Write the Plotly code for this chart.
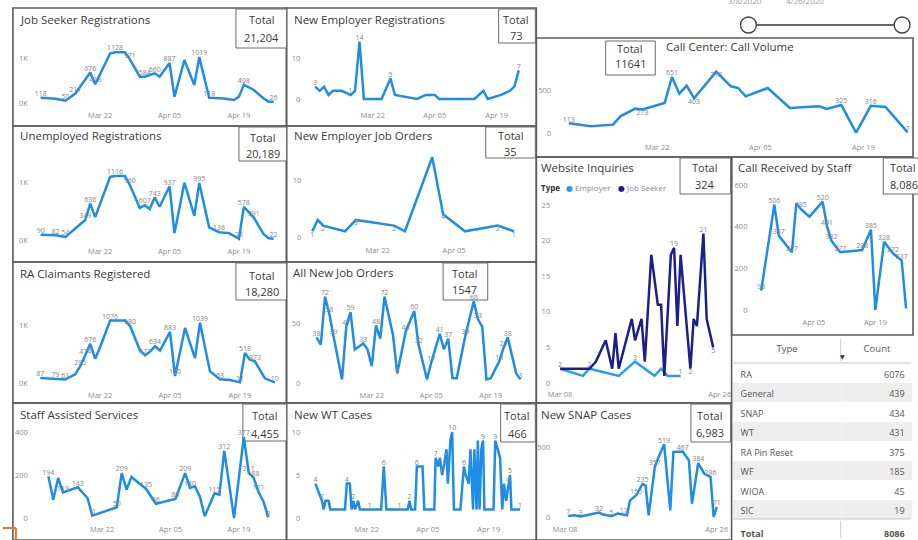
import plotly.graph_objects as go
import pandas as pd

W, H = 918, 540
FONT = "Open Sans, Noto Sans, DejaVu Sans, sans-serif"
BLUE = "#1f8ce6"
EMP_BLUE = "#2b9bf0"
NAVY = "#1b1f8a"

# ------------------------------------------------------------------ data
JS_DATES = ["2020-03-10", "2020-03-13", "2020-03-15", "2020-03-17", "2020-03-20", "2020-03-21",
            "2020-03-24", "2020-03-25", "2020-03-27", "2020-03-28", "2020-03-30", "2020-03-31",
            "2020-04-02", "2020-04-03", "2020-04-05", "2020-04-06", "2020-04-08", "2020-04-10",
            "2020-04-11", "2020-04-13", "2020-04-16", "2020-04-18", "2020-04-19", "2020-04-20",
            "2020-04-22", "2020-04-24", "2020-04-25", "2020-04-26"]
JS_VALUES = [118, 95, 50, 211, 676, 418, 1100, 1128, 1128, 971, 585, 584, 660, 585, 887, 140, 955, 400,
             1019, 118, 100, 67, 140, 408, 290, 100, 30, 26]
JS_TOP = [0, 2, 3, 4, 5, 7, 9, 11, 12, 14, 18, 19, 23, 27]

NER_DATES = ["2020-03-09", "2020-03-10", "2020-03-11", "2020-03-12", "2020-03-13", "2020-03-15",
             "2020-03-17", "2020-03-18", "2020-03-19", "2020-03-20", "2020-03-24", "2020-03-26",
             "2020-03-27", "2020-04-01", "2020-04-03", "2020-04-05", "2020-04-06", "2020-04-14",
             "2020-04-16", "2020-04-17", "2020-04-20", "2020-04-22", "2020-04-23", "2020-04-24"]
NER_VALUES = [3, 2, 3, 1, 2, 2, 1, 2, 14, 0, 0, 5, 1, 0, 1, 1, 0, 0, 2, 0, 1, 2, 3, 7]
NER_TOP = [0, 6, 8, 11, 23]

CC_DATES = ["2020-03-10", "2020-03-13", "2020-03-16", "2020-03-17", "2020-03-19", "2020-03-20",
            "2020-03-23", "2020-03-24", "2020-03-25", "2020-03-26", "2020-03-27", "2020-03-30",
            "2020-04-01", "2020-04-02", "2020-04-03", "2020-04-06", "2020-04-09", "2020-04-13",
            "2020-04-14", "2020-04-16", "2020-04-18", "2020-04-20", "2020-04-22", "2020-04-25"]
CC_VALUES = [113, 78, 97, 194, 283, 273, 349, 651, 457, 550, 403, 713, 543, 523, 426, 523, 291, 310,
             279, 325, 5, 316, 302, 7]
CC_TOP = [0, 7, 19, 21, 23]
CC_BOT = [5, 10, 11]

UR_DATES = ["2020-03-10", "2020-03-13", "2020-03-15", "2020-03-17", "2020-03-19", "2020-03-20",
            "2020-03-21", "2020-03-24", "2020-03-25", "2020-03-27", "2020-03-28", "2020-03-30",
            "2020-03-31", "2020-04-01", "2020-04-02", "2020-04-03", "2020-04-05", "2020-04-06",
            "2020-04-08", "2020-04-10", "2020-04-11", "2020-04-13", "2020-04-15", "2020-04-17",
            "2020-04-19", "2020-04-20", "2020-04-22", "2020-04-24", "2020-04-25", "2020-04-26"]
UR_VALUES = [90, 82, 54, 200, 349, 636, 400, 1100, 1116, 1116, 960, 560, 607, 540, 743, 580, 937, 120,
             1000, 420, 995, 220, 136, 120, 23, 578, 391, 100, 30, 22]
UR_TOP = [0, 1, 2, 4, 5, 8, 10, 12, 14, 16, 20, 22, 24, 25, 26, 29]

NEJO_DATES = ["2020-03-10", "2020-03-11", "2020-03-12", "2020-03-16", "2020-03-18", "2020-03-25",
              "2020-03-27", "2020-04-01", "2020-04-03", "2020-04-07", "2020-04-13", "2020-04-16"]
NEJO_VALUES = [1, 3, 2, 1, 3, 2, 1, 14, 4, 1, 2, 1]
NEJO_BOT = [0, 2, 4, 5, 8, 10, 11]

WEB_EMP_DATES = ["2020-03-08", "2020-03-15", "2020-03-17", "2020-03-26", "2020-03-31", "2020-04-06",
                 "2020-04-08", "2020-04-10", "2020-04-13", "2020-04-14"]
WEB_EMP_VALUES = [2, 1, 2, 1, 3, 1, 2, 1, 1, 1]
WEB_EMP_TOP = [0, 2, 4, 9]
WEB_JS_DATES = ["2020-03-08", "2020-03-17", "2020-03-19", "2020-03-22", "2020-03-24", "2020-03-25",
                "2020-03-26", "2020-03-30", "2020-03-31", "2020-04-02", "2020-04-03", "2020-04-05",
                "2020-04-07", "2020-04-08", "2020-04-09", "2020-04-11", "2020-04-12", "2020-04-13",
                "2020-04-14", "2020-04-17", "2020-04-18", "2020-04-19", "2020-04-21", "2020-04-22",
                "2020-04-24"]
WEB_JS_VALUES = [2, 2, 3, 6, 2, 7, 2, 9, 6, 9, 3, 18, 11, 11, 1, 18, 19, 8, 18, 2, 9, 8, 21, 9, 5]
WEB_JS_TOP = [16, 22]
WEB_JS_BOT = [19, 24]

CRS_DATES = ["2020-03-24", "2020-03-27", "2020-03-28", "2020-03-30", "2020-03-31", "2020-04-01",
             "2020-04-02", "2020-04-04", "2020-04-07", "2020-04-08", "2020-04-09", "2020-04-11",
             "2020-04-13", "2020-04-16", "2020-04-18", "2020-04-19", "2020-04-21", "2020-04-23",
             "2020-04-25", "2020-04-26"]
CRS_VALUES = [93, 506, 357, 300, 277, 512, 485, 448, 520, 401, 332, 277, 280, 288, 385, 0, 328, 272,
              237, 8]
CRS_TOP = [0, 1, 2, 4, 6, 8, 9, 10, 11, 13, 14, 16, 17, 18]

RA_DATES = ["2020-03-10", "2020-03-13", "2020-03-15", "2020-03-17", "2020-03-18", "2020-03-19",
            "2020-03-20", "2020-03-21", "2020-03-22", "2020-03-24", "2020-03-27", "2020-03-28",
            "2020-03-30", "2020-03-31", "2020-04-01", "2020-04-02", "2020-04-03", "2020-04-05",
            "2020-04-06", "2020-04-08", "2020-04-10", "2020-04-11", "2020-04-13", "2020-04-15",
            "2020-04-17", "2020-04-19", "2020-04-20", "2020-04-21", "2020-04-22", "2020-04-24",
            "2020-04-26"]
RA_VALUES = [87, 79, 61, 150, 285, 474, 676, 420, 620, 1076, 1076, 980, 560, 477, 540, 634, 560, 883,
             120, 950, 430, 1039, 200, 63, 50, 11, 518, 400, 373, 80, 10]
RA_TOP = [0, 1, 2, 4, 5, 6, 9, 11, 13, 15, 17, 18, 21, 23, 25, 26, 28, 30]

AJO_DATES = ["2020-03-09", "2020-03-10", "2020-03-11", "2020-03-12", "2020-03-13", "2020-03-15",
             "2020-03-16", "2020-03-17", "2020-03-18", "2020-03-20", "2020-03-21", "2020-03-22",
             "2020-03-23", "2020-03-24", "2020-03-25", "2020-03-27", "2020-03-28", "2020-03-30",
             "2020-04-01", "2020-04-02", "2020-04-04", "2020-04-05", "2020-04-07", "2020-04-08",
             "2020-04-09", "2020-04-10", "2020-04-11", "2020-04-13", "2020-04-15", "2020-04-16",
             "2020-04-17", "2020-04-18", "2020-04-19", "2020-04-21", "2020-04-22", "2020-04-23",
             "2020-04-25", "2020-04-26"]
AJO_VALUES = [38, 32, 72, 58, 39, 3, 47, 59, 28, 33, 28, 14, 48, 37, 72, 40, 8, 43, 60, 32, 3, 17, 41,
              28, 37, 4, 4, 39, 68, 53, 47, 3, 4, 18, 29, 38, 8, 3]
AJO_TOP = [0, 2, 3, 4, 6, 7, 9, 12, 14, 16, 17, 18, 19, 21, 22, 24, 27, 28, 29, 33, 34, 35, 37]

SAS_DATES = ["2020-03-11", "2020-03-12", "2020-03-13", "2020-03-14", "2020-03-17", "2020-03-19",
             "2020-03-20", "2020-03-25", "2020-03-26", "2020-03-27", "2020-03-28", "2020-03-31",
             "2020-04-02", "2020-04-06", "2020-04-08", "2020-04-09", "2020-04-10", "2020-04-11",
             "2020-04-12", "2020-04-14", "2020-04-15", "2020-04-16", "2020-04-18", "2020-04-20",
             "2020-04-21", "2020-04-22", "2020-04-23", "2020-04-24", "2020-04-25"]
SAS_VALUES = [194, 85, 186, 119, 143, 93, 11, 50, 209, 132, 190, 135, 66, 89, 209, 140, 147, 100, 8,
              115, 108, 312, 0, 377, 211, 188, 121, 78, 3]
SAS_TOP = [0, 3, 4, 6, 7, 8, 11, 12, 13, 14, 15, 19, 21, 23, 24, 25, 26, 28]

WT_START = "2020-03-10"
WT_DAYS = [0.2, 0.9, 1.7, 2.1, 2.5, 3.2, 3.6, 7.0, 7.4, 8.1, 8.5, 8.9, 9.3, 10.0, 10.4, 12.7, 15.3,
           15.9, 16.5, 19.5, 21.4, 21.8, 22.2, 23.1, 23.5, 24.0, 24.4, 24.8, 25.2, 27.5, 27.8, 28.4,
           28.8, 29.3, 29.7, 30.3, 30.6, 31.2, 31.6, 32.0, 33.5, 34.3, 34.7, 35.4, 35.8, 36.4, 36.7,
           37.2, 37.5, 37.9, 38.3, 38.7, 39.0, 41.1, 41.5, 42.6, 43.1, 43.5, 44.0, 44.5, 44.9, 45.2,
           45.6, 47.2]
WT_VALUES = [4, 3, 2, 1, 2, 2, 1, 1, 4, 4, 1, 2, 1, 2, 1, 1, 1, 6, 1, 1, 1, 2, 1, 1, 6, 6, 6, 6, 1,
             1, 7, 6, 7, 5, 6, 8, 4, 9, 10, 1, 1, 6, 5, 4, 8, 1, 8, 1, 9, 1, 8, 9, 1, 1, 9, 7, 1, 4,
             2, 4, 5, 1, 1, 1]
WT_TOP = [0, 2, 6, 8, 11, 15, 17, 19, 21, 24, 30, 33, 38, 40, 41, 51, 54, 59, 60, 63]

SNAP_DATES = ["2020-03-09", "2020-03-11", "2020-03-13", "2020-03-15", "2020-03-17", "2020-03-19",
              "2020-03-20", "2020-03-23", "2020-03-25", "2020-03-27", "2020-03-28", "2020-03-29",
              "2020-03-31", "2020-04-02", "2020-04-03", "2020-04-04", "2020-04-06", "2020-04-07",
              "2020-04-09", "2020-04-11", "2020-04-12", "2020-04-15", "2020-04-17", "2020-04-18",
              "2020-04-20", "2020-04-22", "2020-04-24", "2020-04-25", "2020-04-26"]
SNAP_VALUES = [7, 12, 3, 12, 19, 32, 19, 5, 24, 17, 12, 119, 155, 235, 226, 12, 357, 417, 519, 48,
               464, 467, 405, 95, 384, 309, 286, 0, 71]
SNAP_TOP = [0, 2, 5, 7, 9, 12, 13, 16, 18, 21, 24, 26, 28]

TABLE_TYPES = ["RA", "General", "SNAP", "WT", "RA Pin Reset", "WF", "WIOA", "SIC"]
TABLE_COUNTS = [6076, 439, 434, 431, 375, 185, 45, 19]
TABLE_TOTAL = 8086

TOTALS = {"js": "21,204", "ner": "73", "cc": "11641", "ur": "20,189", "nejo": "35", "web": "324",
          "crs": "8,086", "ra": "18,280", "ajo": "1547", "sas": "4,455", "wt": "466", "snap": "6,983"}

TICKS_3 = (["2020-03-22", "2020-04-05", "2020-04-19"], ["Mar 22", "Apr 05", "Apr 19"])
TICKS_2 = (["2020-03-22", "2020-04-05"], ["Mar 22", "Apr 05"])
TICKS_END = (["2020-03-08", "2020-04-26"], ["Mar 08", "Apr 26"])
TICKS_APR = (["2020-04-05", "2020-04-19"], ["Apr 05", "Apr 19"])

# ------------------------------------------------------------------ helpers
def X(px):
    return px / W


def Y(py):
    return 1 - py / H


def labels(values, top=(), bot=()):
    text, pos = [], []
    for i, v in enumerate(values):
        if i in top:
            text.append(str(v)); pos.append("top center")
        elif i in bot:
            text.append(str(v)); pos.append("bottom center")
        else:
            text.append(""); pos.append("top center")
    return text, pos


fig = go.Figure()
shapes, annotations = [], []


def add_panel(n, series, dom_x, dom_y, xa, xb, ya, yb, yticks, yticktext, xticks):
    sfx = "" if n == 1 else str(n)
    ta, tb = pd.Timestamp(xa[0]), pd.Timestamp(xb[0])
    per = (tb - ta) / (xb[1] - xa[1])
    xr = [str(ta + per * (dom_x[0] - xa[1])), str(ta + per * (dom_x[1] - xa[1]))]
    slope = (yb[0] - ya[0]) / (yb[1] - ya[1])
    yr = [ya[0] + (dom_y[1] - ya[1]) * slope, ya[0] + (dom_y[0] - ya[1]) * slope]
    for s in series:
        text, pos = labels(s["y"], s.get("top", ()), s.get("bot", ()))
        fig.add_trace(go.Scatter(
            x=s["x"], y=s["y"], mode="lines+text", text=text, textposition=pos,
            textfont=dict(family=FONT, size=7, color="#858585"),
            line=dict(color=s.get("color", BLUE), width=2.5),
            cliponaxis=False, hoverinfo="skip", showlegend=False,
            xaxis="x" + sfx, yaxis="y" + sfx))
    fig.update_layout(**{
        "xaxis" + sfx: dict(domain=[X(dom_x[0]), X(dom_x[1])], range=xr, type="date",
                            tickvals=xticks[0], ticktext=xticks[1], showgrid=False,
                            zeroline=False, showline=False, ticks="", anchor="y" + sfx,
                            tickfont=dict(family=FONT, size=7.5, color="#8c8c8c"),
                            fixedrange=True),
        "yaxis" + sfx: dict(domain=[Y(dom_y[1]), Y(dom_y[0])], range=yr,
                            tickvals=yticks, ticktext=yticktext, showgrid=False,
                            zeroline=False, showline=False, ticks="", anchor="x" + sfx,
                            tickfont=dict(family=FONT, size=7.5, color="#8c8c8c"),
                            fixedrange=True),
    })


def title(txt, x, y):
    annotations.append(dict(text=txt, x=X(x), y=Y(y), xref="paper", yref="paper",
                            xanchor="left", yanchor="middle", showarrow=False,
                            font=dict(family=FONT, size=11.5, color="#3a3a3a")))


def total_box(x0, y0, x1, y1, cx, value, ty, vy, anchor="center"):
    shapes.append(dict(type="rect", xref="paper", yref="paper", x0=X(x0), x1=X(x1),
                       y0=Y(y1), y1=Y(y0), line=dict(color="#6a6a6a", width=1),
                       fillcolor="white", layer="below"))
    for txt, yy in (("Total", ty), (value, vy)):
        annotations.append(dict(text=txt, x=X(cx), y=Y(yy), xref="paper", yref="paper",
                                xanchor=anchor, yanchor="middle", showarrow=False,
                                font=dict(family=FONT, size=11, color="#3a3a3a")))


def border(x0, y0, x1, y1):
    shapes.append(dict(type="rect", xref="paper", yref="paper", x0=X(x0), x1=X(x1),
                       y0=Y(y1), y1=Y(y0), line=dict(color="#5c5c5c", width=1.6),
                       layer="below"))


# ------------------------------------------------------------------ panels
K = ([0, 1000], ["0K", "1K"])
add_panel(1, [dict(x=JS_DATES, y=JS_VALUES, top=JS_TOP)], (26, 280), (40, 109),
          ("2020-03-22", 98), ("2020-04-19", 238), (0, 103), (1000, 58), *K, TICKS_3)
add_panel(2, [dict(x=NER_DATES, y=NER_VALUES, top=NER_TOP)], (301, 533), (34, 109),
          ("2020-03-22", 373), ("2020-04-19", 498), (0, 99), (10, 58), [0, 10], ["0", "10"], TICKS_3)
add_panel(3, [dict(x=CC_DATES, y=CC_VALUES, top=CC_TOP, bot=CC_BOT)], (554, 916), (60, 141),
          ("2020-03-22", 660), ("2020-04-19", 868), (0, 133), (500, 90), [0, 500], ["0", "500"],
          TICKS_3)
add_panel(4, [dict(x=UR_DATES, y=UR_VALUES, top=UR_TOP)], (26, 280), (165, 245),
          ("2020-03-22", 98), ("2020-04-19", 238), (0, 240), (1000, 182.7), *K, TICKS_3)
add_panel(5, [dict(x=NEJO_DATES, y=NEJO_VALUES, bot=NEJO_BOT)], (302, 533), (150, 244),
          ("2020-03-22", 378), ("2020-04-05", 455), (0, 237), (10, 180), [0, 10], ["0", "10"],
          TICKS_2)
add_panel(6, [dict(x=WEB_EMP_DATES, y=WEB_EMP_VALUES, top=WEB_EMP_TOP, color=EMP_BLUE),
              dict(x=WEB_JS_DATES, y=WEB_JS_VALUES, top=WEB_JS_TOP, bot=WEB_JS_BOT, color=NAVY)],
          (553, 729), (200, 388), ("2020-03-08", 562), ("2020-04-26", 723), (0, 383), (25, 205),
          [0, 5, 10, 15, 20, 25], ["0", "5", "10", "15", "20", "25"], TICKS_END)
add_panel(7, [dict(x=CRS_DATES, y=CRS_VALUES, top=CRS_TOP)], (752, 916), (180, 316),
          ("2020-04-05", 818), ("2020-04-19", 880), (0, 310), (600, 185),
          [0, 200, 400, 600], ["0", "200", "400", "600"], TICKS_APR)
add_panel(8, [dict(x=RA_DATES, y=RA_VALUES, top=RA_TOP)], (26, 280), (305, 389),
          ("2020-03-22", 98), ("2020-04-19", 239), (0, 383), (1000, 325), *K, TICKS_3)
add_panel(9, [dict(x=AJO_DATES, y=AJO_VALUES, top=AJO_TOP)], (301, 533), (288, 389),
          ("2020-03-22", 372), ("2020-04-19", 492), (0, 383), (50, 323), [0, 50], ["0", "50"],
          TICKS_3)
add_panel(10, [dict(x=SAS_DATES, y=SAS_VALUES, top=SAS_TOP)], (26, 280), (425, 523),
          ("2020-03-22", 100), ("2020-04-19", 238), (0, 518), (400, 432),
          [0, 200, 400], ["0", "200", "400"], TICKS_3)
wt_x = [str(pd.Timestamp(WT_START) + pd.to_timedelta(d, unit="D")) for d in WT_DAYS]
add_panel(11, [dict(x=wt_x, y=WT_VALUES, top=WT_TOP)], (301, 533), (425, 523),
          ("2020-03-22", 367), ("2020-04-19", 490), (0, 518), (5, 475),
          [0, 5, 10], ["0", "5", "10"], TICKS_3)
add_panel(12, [dict(x=SNAP_DATES, y=SNAP_VALUES, top=SNAP_TOP)], (553, 729), (425, 523),
          ("2020-03-08", 567), ("2020-04-26", 720), (0, 517), (500, 447), [0, 500], ["0", "500"],
          TICKS_END)

# ------------------------------------------------------------------ frames, titles, totals
for b in [(10, 8, 286, 126), (286, 8, 538, 126), (538, 38, 918, 157), (10, 126, 286, 262),
          (286, 126, 538, 262), (538, 157, 735, 403), (735, 157, 918, 335), (10, 262, 286, 403),
          (286, 262, 538, 403), (10, 403, 286, 540), (286, 403, 538, 540), (538, 403, 735, 540)]:
    border(*b)

title("Job Seeker Registrations", 15, 19)
title("New Employer Registrations", 292, 19)
title("Call Center: Call Volume", 667, 47)
title("Unemployed Registrations", 15, 136)
title("New Employer Job Orders", 292, 135)
title("Website Inquiries", 541, 167)
title("Call Received by Staff", 739, 167)
title("RA Claimants Registered", 15, 273)
title("All New Job Orders", 291, 272)
title("Staff Assisted Services", 15, 414)
title("New WT Cases", 292, 414)
title("New SNAP Cases", 541, 414)

total_box(235, 9, 286, 48, 261, TOTALS["js"], 20, 37)
total_box(500, 9, 537, 43, 518, TOTALS["ner"], 20, 36)
total_box(608, 41, 658, 75, 633, TOTALS["cc"], 48, 64)
total_box(238, 127, 286, 161, 262, TOTALS["ur"], 137, 153)
total_box(487, 127, 537, 158, 512, TOTALS["nejo"], 136, 151)
total_box(683, 158, 734, 194, 708, TOTALS["web"], 167, 184)
total_box(888, 158, 930, 194, 893, TOTALS["crs"], 167, 184, anchor="left")
total_box(235, 263, 286, 300, 261, TOTALS["ra"], 275, 291)
total_box(444, 263, 489, 300, 466, TOTALS["ajo"], 273, 289)
total_box(242, 404, 286, 441, 264, TOTALS["sas"], 415, 433)
total_box(502, 404, 537, 442, 519, TOTALS["wt"], 415, 433)
total_box(694, 404, 734, 442, 713, TOTALS["snap"], 415, 432)

# website legend
annotations.append(dict(text="<b>Type</b>", x=X(541), y=Y(188), xref="paper", yref="paper",
                        xanchor="left", yanchor="middle", showarrow=False,
                        font=dict(family=FONT, size=8, color="#333")))
for cx, col, name in ((566, EMP_BLUE, "Employer"), (618, NAVY, "Job Seeker")):
    annotations.append(dict(text=f"<span style='color:{col}'>●</span> {name}", x=X(cx), y=Y(188),
                            xref="paper", yref="paper", xanchor="left", yanchor="middle",
                            showarrow=False, font=dict(family=FONT, size=8, color="#8a8a8a")))

# ------------------------------------------------------------------ table
fills = ["white" if i % 2 == 0 else "#eeeeee" for i in range(len(TABLE_TYPES))] + ["white"]
fig.add_trace(go.Table(
    domain=dict(x=[X(736), X(918)], y=[Y(540), Y(337)]),
    columnwidth=[110, 72],
    header=dict(values=["Type", "Count"], align=["center", "center"], height=26,
                fill_color="white", line=dict(color="white", width=0),
                font=dict(family=FONT, size=9.5, color="#555")),
    cells=dict(values=[TABLE_TYPES + ["<b>Total</b>"],
                       [str(c) for c in TABLE_COUNTS] + [f"<b>{TABLE_TOTAL}</b>"]],
               align=["left", "right"], height=19.5,
               fill_color=[fills, fills], line=dict(color=[fills, fills], width=0),
               font=dict(family=FONT, size=9, color="#555"))))
shapes.append(dict(type="line", xref="paper", yref="paper", x0=X(737), x1=X(916), y0=Y(363),
                   y1=Y(363), line=dict(color="#b7c7d9", width=1)))
shapes.append(dict(type="line", xref="paper", yref="paper", x0=X(737), x1=X(916), y0=Y(519),
                   y1=Y(519), line=dict(color="#b7c7d9", width=1)))
shapes.append(dict(type="line", xref="paper", yref="paper", x0=X(845), x1=X(845), y0=Y(339),
                   y1=Y(361), line=dict(color="#cfcfcf", width=1)))
shapes.append(dict(type="line", xref="paper", yref="paper", x0=X(845), x1=X(845), y0=Y(521),
                   y1=Y(538), line=dict(color="#cfcfcf", width=1)))
annotations.append(dict(text="▼", x=X(851), y=Y(357), xref="paper", yref="paper",
                        showarrow=False, font=dict(size=6, color="#333")))

# ------------------------------------------------------------------ date slicer
shapes.append(dict(type="line", xref="paper", yref="paper", x0=X(760), x1=X(899), y0=Y(25),
                   y1=Y(25), line=dict(color="#333", width=1.5)))
for cx in (752, 907):
    shapes.append(dict(type="circle", xref="paper", yref="paper", x0=X(cx - 8), x1=X(cx + 8),
                       y0=Y(33), y1=Y(17), line=dict(color="#444", width=1.4), fillcolor="white"))
for cx, txt in ((768, "3/8/2020"), (830, "4/26/2020")):
    annotations.append(dict(text=txt, x=X(cx), y=Y(0), xref="paper", yref="paper",
                            yanchor="middle", showarrow=False,
                            font=dict(family=FONT, size=8, color="#9a9a9a")))

# small orange corner mark
shapes.append(dict(type="line", xref="paper", yref="paper", x0=0, x1=X(13), y0=Y(528), y1=Y(528),
                   line=dict(color="#e8742c", width=2)))
shapes.append(dict(type="line", xref="paper", yref="paper", x0=X(13), x1=X(13), y0=Y(528),
                   y1=0, line=dict(color="#e8742c", width=2)))

fig.update_layout(width=W, height=H, margin=dict(l=0, r=0, t=0, b=0),
                  paper_bgcolor="white", plot_bgcolor="white", showlegend=False,
                  shapes=shapes, annotations=annotations, font=dict(family=FONT))
fig.write_html("out.html", config={"displayModeBar": False},
               post_script="document.body.style.margin='0px';document.body.style.padding='0px';")
